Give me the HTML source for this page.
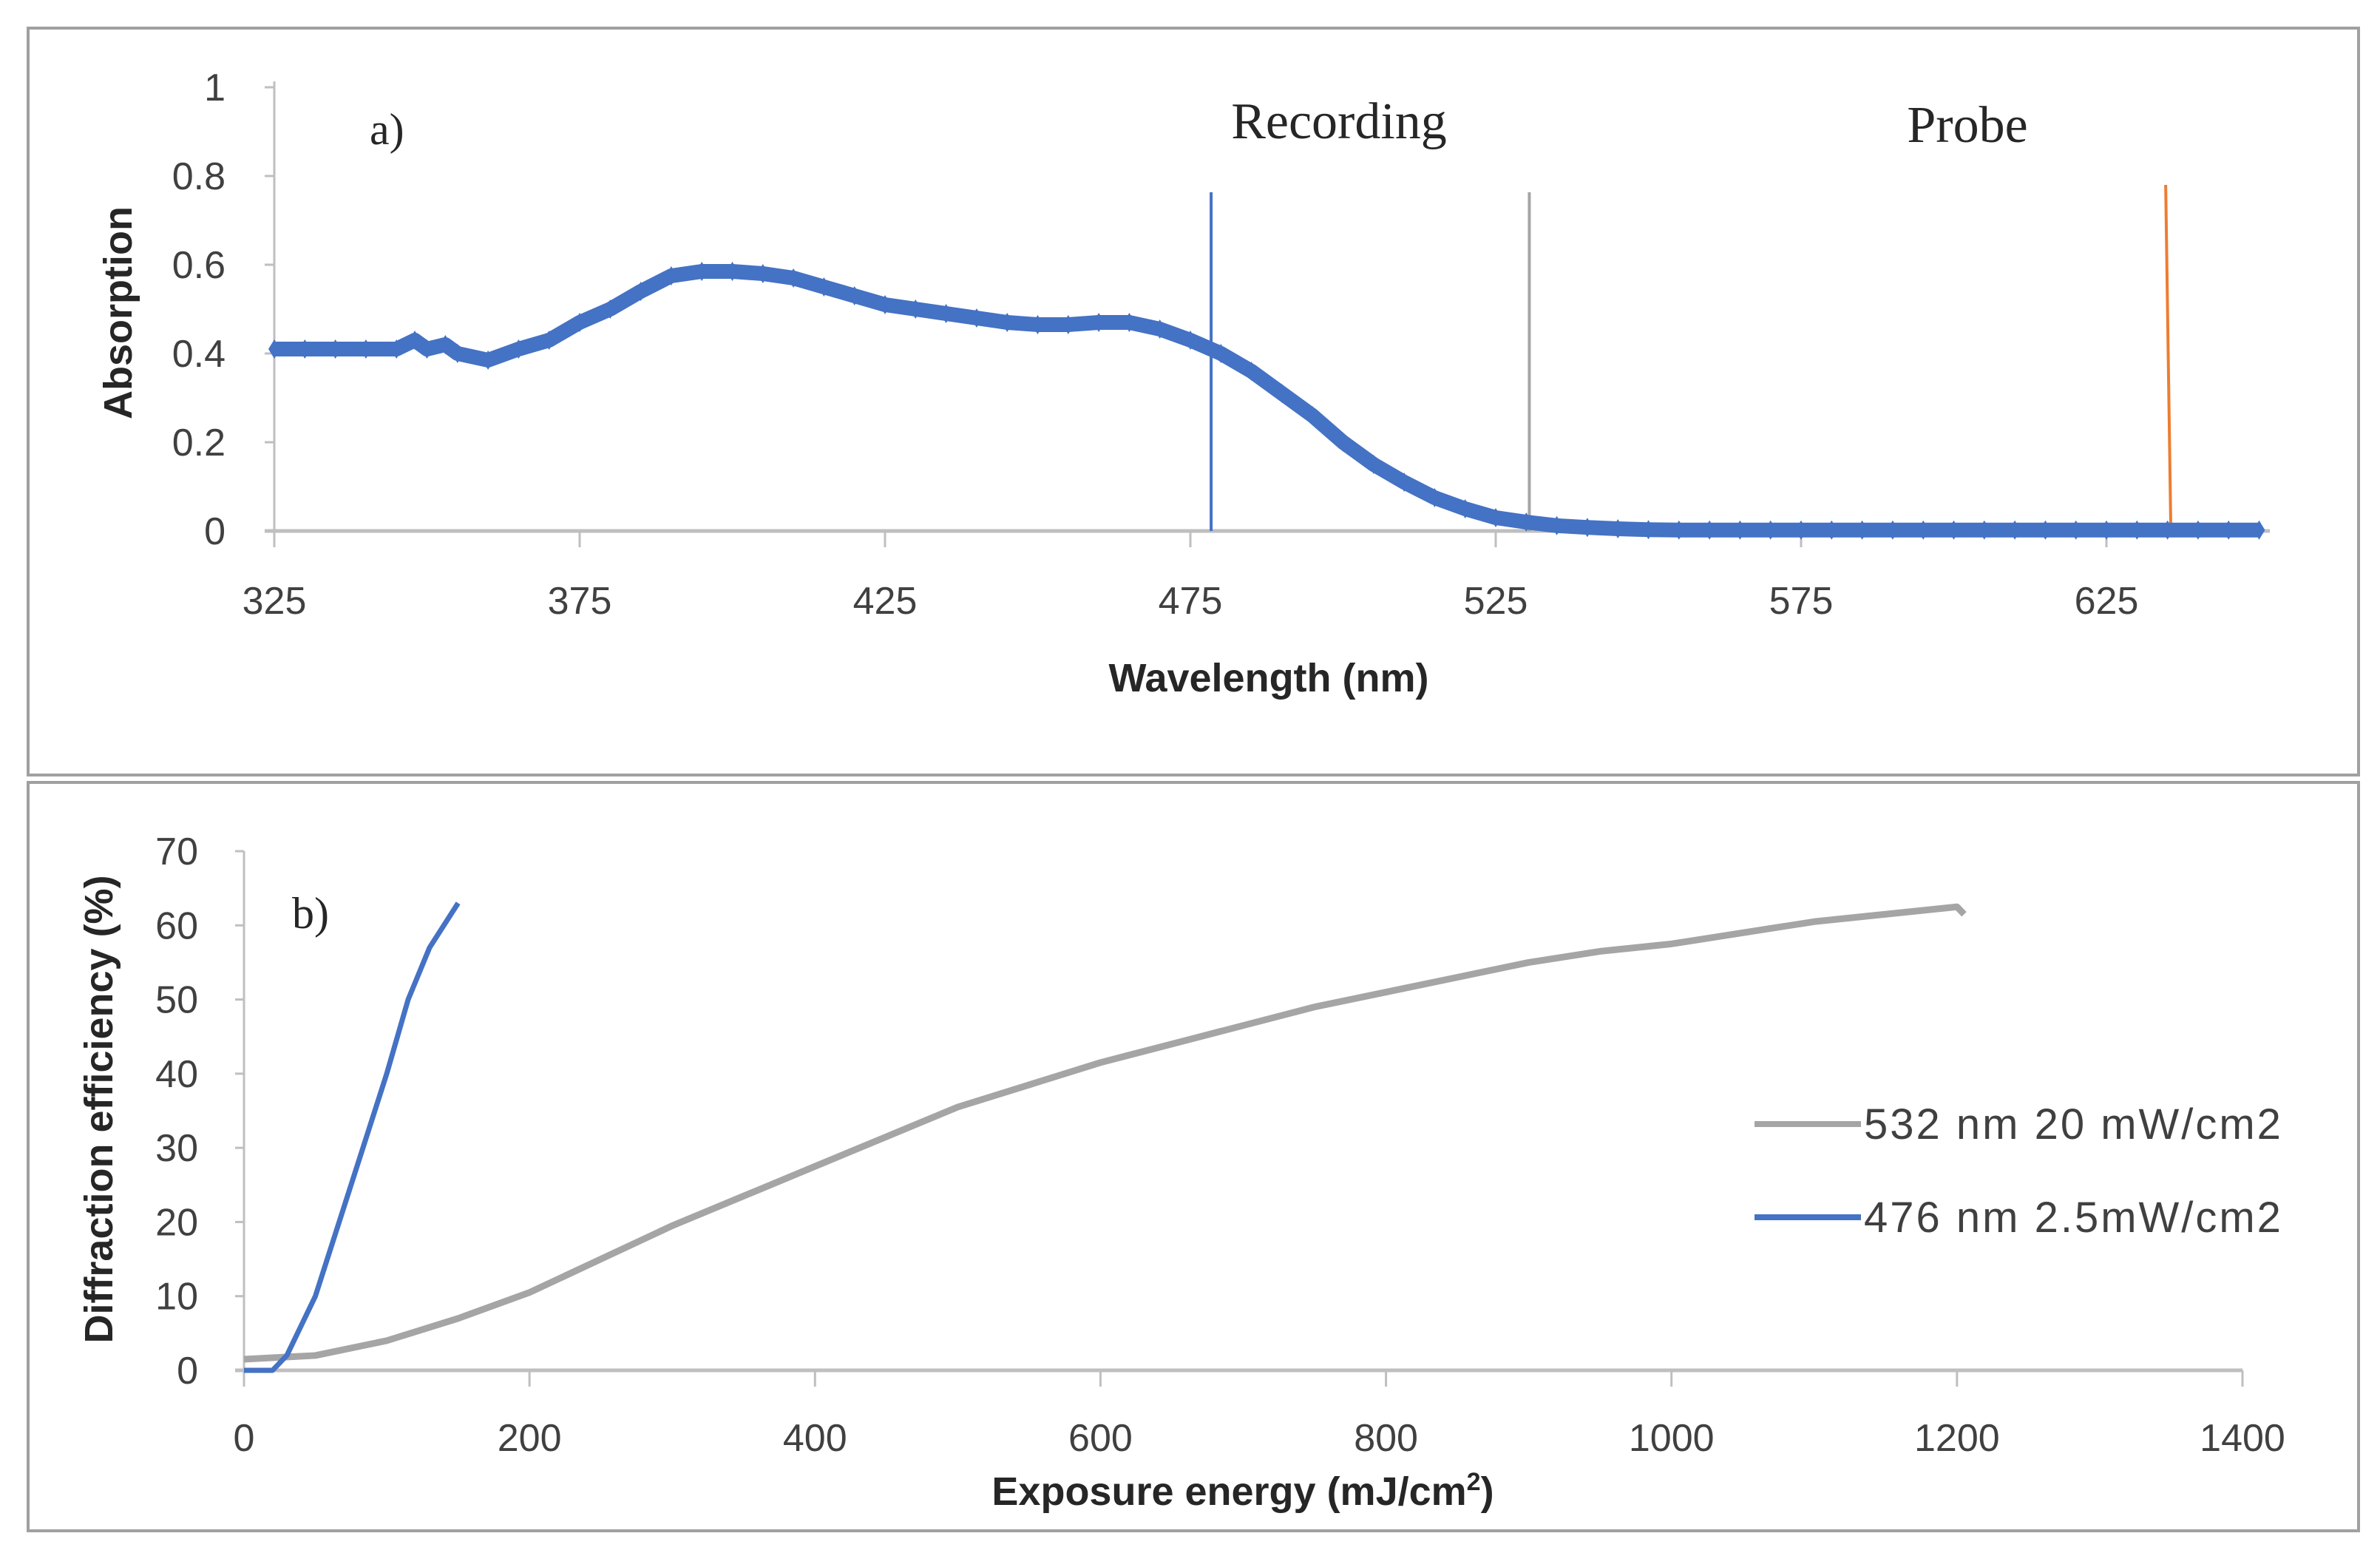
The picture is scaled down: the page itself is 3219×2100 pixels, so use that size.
<!DOCTYPE html>
<html><head><meta charset="utf-8"><style>
html,body{margin:0;padding:0;background:#fff;}
svg{display:block;}
text{font-family:"Liberation Sans",sans-serif;}
.tick{font-size:52px;fill:#404040;}
.serif{font-family:"Liberation Serif",serif;}
</style></head><body>
<svg id="root" width="3219" height="2100" viewBox="0 0 3219 2100">
<rect x="38" y="38" width="3152" height="1010" fill="none" stroke="#a0a0a0" stroke-width="4"/>
<rect x="38" y="1058" width="3152" height="1012" fill="none" stroke="#a0a0a0" stroke-width="4"/>
<g id="ga"></g>
<g id="gb"></g>
</svg>
<script>
const NS="http://www.w3.org/2000/svg";
// Panel a data
const wl=[325,330,335,340,345,348,350,353,355,360,365,370,375,380,385,390,395,400,405,410,415,420,425,430,435,440,445,450,455,460,465,470,475,480,485,490,495,500,505,510,515,520,525,530,535,540,545,550,555,560,565,570,575,580,585,590,595,600,605,610,615,620,625,630,635,640,645,650];
const absorb=[0.41,0.41,0.41,0.41,0.41,0.43,0.41,0.42,0.40,0.385,0.41,0.43,0.47,0.50,0.54,0.575,0.585,0.585,0.58,0.57,0.55,0.53,0.51,0.50,0.49,0.48,0.47,0.465,0.465,0.47,0.47,0.455,0.43,0.40,0.36,0.31,0.26,0.20,0.15,0.11,0.075,0.05,0.03,0.02,0.012,0.008,0.005,0.003,0.002,0.002,0.002,0.002,0.002,0.002,0.002,0.002,0.002,0.002,0.002,0.002,0.002,0.002,0.002,0.002,0.002,0.002,0.002,0.002];
const aXTicks=[325,375,425,475,525,575,625];
const aYTicks=[0,0.2,0.4,0.6,0.8,1];
const aYLabels=["0","0.2","0.4","0.6","0.8","1"];
const markers=[478.4,530.5,634.7];
// Panel b data
const gX=[0,50,100,150,200,250,300,350,400,450,500,550,600,650,700,750,800,850,900,950,1000,1050,1100,1150,1200,1205];
const gY=[1.5,2,4,7,10.5,15,19.5,23.5,27.5,31.5,35.5,38.5,41.5,44,46.5,49,51,53,55,56.5,57.5,59,60.5,61.5,62.5,61.5];
const bX=[0,20,30,50,75,100,115,130,150];
const bY=[0,0,2,10,25,40,50,57,63];
const bXTicks=[0,200,400,600,800,1000,1200,1400];
const bYTicks=[0,10,20,30,40,50,60,70];

function el(tag,attrs,parent,txt){const e=document.createElementNS(NS,tag);for(const k in attrs)e.setAttribute(k,attrs[k]);if(txt!==undefined)e.textContent=txt;parent.appendChild(e);return e;}

// ----- Panel a -----
const ga=document.getElementById('ga');
const ax=v=>371+(v-325)*(2849-371)/300;
const ay=v=>718-v*600;
let e;
e=el('line',{x1:371,y1:110,x2:371,y2:718,stroke:'#bfbfbf','stroke-width':3},ga);

e=el('line',{x1:358,y1:718,x2:3070,y2:718,stroke:'#bfbfbf','stroke-width':5},ga);

aYTicks.forEach((t,i)=>{
  el('line',{x1:358,y1:ay(t),x2:371,y2:ay(t),stroke:'#bfbfbf','stroke-width':3},ga);
  e=el('text',{x:305,y:ay(t)+18,'text-anchor':'end',class:'tick'},ga,aYLabels[i]);
  
});
aXTicks.forEach(t=>{
  el('line',{x1:ax(t),y1:718,x2:ax(t),y2:740,stroke:'#bfbfbf','stroke-width':3},ga);
  e=el('text',{x:ax(t),y:830,'text-anchor':'middle',class:'tick'},ga,String(t));
  
});
const mcol=['#4472c4','#a5a5a5','#ed7d31'];
const mtop=[260,260,250];
markers.forEach((m,i)=>{
  e=el('line',{x1:ax(m),y1:mtop[i],x2:ax(m)+(i==2?7:0),y2:718,stroke:mcol[i],'stroke-width':4},ga);
  
});
let pts=wl.map((w,i)=>ax(w)+','+ay(absorb[i])).join(' ');
e=el('polyline',{points:pts,fill:'none',stroke:'#4472c4','stroke-width':20,'stroke-linejoin':'round'},ga);

wl.forEach((w,i)=>{
  const x=ax(w),y=ay(absorb[i]);
  e=el('polygon',{points:`${x},${y-13} ${x+8},${y} ${x},${y+13} ${x-8},${y}`,fill:'#4472c4'},ga);
  
});
e=el('text',{x:1716,y:935,'text-anchor':'middle','font-size':54,'font-weight':'bold',fill:'#262626'},ga,'Wavelength (nm)');

e=el('text',{x:0,y:0,transform:'translate(178,423) rotate(-90)','text-anchor':'middle','font-size':54,'font-weight':'bold',fill:'#262626'},ga,'Absorption');

e=el('text',{x:500,y:195,'font-size':60,fill:'#262626',class:'serif'},ga,'a)');

e=el('text',{x:1811,y:187,'text-anchor':'middle','font-size':70,fill:'#262626',class:'serif'},ga,'Recording');

e=el('text',{x:2661,y:192,'text-anchor':'middle','font-size':70,fill:'#262626',class:'serif'},ga,'Probe');


// ----- Panel b -----
const gb=document.getElementById('gb');
const bx=v=>330+v*(3033-330)/1400;
const by=v=>1853-v*(1853-1151)/70;
e=el('line',{x1:330,y1:1151,x2:330,y2:1853,stroke:'#bfbfbf','stroke-width':3},gb);

e=el('line',{x1:318,y1:1853,x2:3033,y2:1853,stroke:'#bfbfbf','stroke-width':5},gb);

bYTicks.forEach(t=>{
  el('line',{x1:318,y1:by(t),x2:330,y2:by(t),stroke:'#bfbfbf','stroke-width':3},gb);
  e=el('text',{x:268,y:by(t)+18,'text-anchor':'end',class:'tick'},gb,String(t));
  
});
bXTicks.forEach(t=>{
  el('line',{x1:bx(t),y1:1853,x2:bx(t),y2:1875,stroke:'#bfbfbf','stroke-width':3},gb);
  e=el('text',{x:bx(t),y:1962,'text-anchor':'middle',class:'tick'},gb,String(t));
  
});
e=el('polyline',{points:gX.map((x,i)=>bx(x)+','+by(gY[i])).join(' '),fill:'none',stroke:'#a5a5a5','stroke-width':9,'stroke-linejoin':'round'},gb);

e=el('polyline',{points:bX.map((x,i)=>bx(x)+','+by(bY[i])).join(' '),fill:'none',stroke:'#4472c4','stroke-width':7,'stroke-linejoin':'round'},gb);

e=el('text',{x:1681,y:2035,'text-anchor':'middle','font-size':54,'font-weight':'bold',fill:'#262626'},gb,'');

e.innerHTML='Exposure energy (mJ/cm<tspan font-size="34" dy="-20">2</tspan><tspan dy="20">)</tspan>';
e=el('text',{x:0,y:0,transform:'translate(152,1500) rotate(-90)','text-anchor':'middle','font-size':54,'font-weight':'bold',fill:'#262626'},gb,'Diffraction efficiency (%)');

e=el('text',{x:395,y:1255,'font-size':60,fill:'#262626',class:'serif'},gb,'b)');

e=el('line',{x1:2373,y1:1520,x2:2517,y2:1520,stroke:'#a5a5a5','stroke-width':8},gb);

e=el('text',{x:2521,y:1540,'font-size':58,'letter-spacing':'3',fill:'#404040'},gb,'532 nm 20 mW/cm2');

e=el('line',{x1:2373,y1:1646,x2:2517,y2:1646,stroke:'#4472c4','stroke-width':8},gb);

e=el('text',{x:2521,y:1666,'font-size':58,'letter-spacing':'3',fill:'#404040'},gb,'476 nm 2.5mW/cm2');

</script>
</body></html>
